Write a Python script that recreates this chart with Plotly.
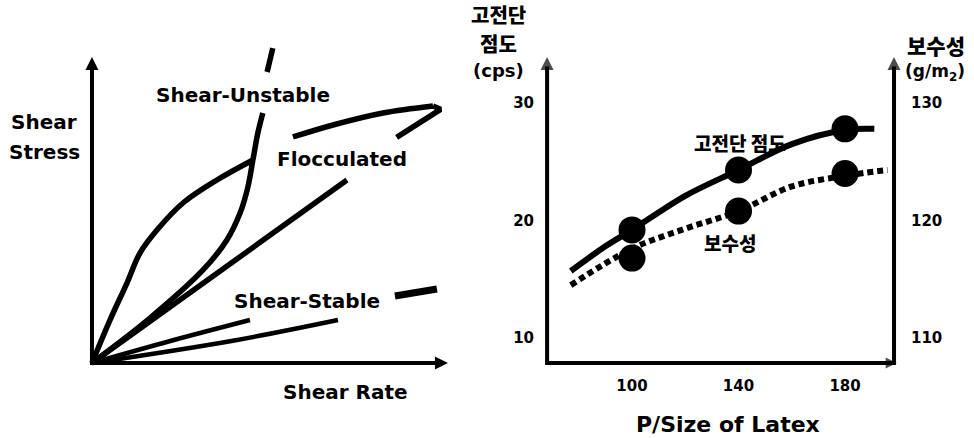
import plotly.graph_objects as go

# ---------------- data ----------------
# Left panel: schematic flow curves (normalized shear rate / shear stress)
unstable_u = [0, 0.163, 0.312, 0.379, 0.416, 0.438, 0.452, 0.466, 0.480]
unstable_v = [0, 0.147, 0.304, 0.402, 0.490, 0.575, 0.663, 0.752, 0.817]
unstable_top_u = [0.492, 0.508]
unstable_top_v = [0.951, 1.029]

floc_up_u = [0, 0.0506, 0.0983, 0.1348, 0.1826, 0.2556, 0.3511, 0.4522]
floc_up_v = [0, 0.1405, 0.2614, 0.3595, 0.4346, 0.5229, 0.598, 0.6634]
floc_top_u = [0.5646, 0.677, 0.8174, 0.9579]
floc_top_v = [0.7386, 0.7778, 0.817, 0.8399]
floc_hook_u = [0.9579, 0.9794, 0.8558]
floc_hook_v = [0.8399, 0.8290, 0.7375]
floc_down_u = [0, 0.7163]
floc_down_v = [0, 0.598]

stable_a_u = [0, 0.22, 0.4438]
stable_a_v = [0, 0.072, 0.1405]
stable_b_u = [0, 0.396, 0.691]
stable_b_v = [0, 0.073, 0.1405]
stable_end_u = [0.851, 0.969]
stable_end_v = [0.219, 0.242]

# Right panel: P/Size of Latex vs high-shear viscosity and water retention
p_size = [100, 140, 180]
viscosity = [19.2, 24.3, 27.8]          # 고전단 점도 (cps), left axis
retention = [116.8, 120.8, 124.0]       # 보수성 (g/m2), right axis

visc_curve_x = [77, 90, 100, 120, 140, 160, 180, 191]
visc_curve_y = [15.7, 17.8, 19.2, 22.1, 24.3, 26.5, 27.7, 27.8]
ret_curve_x = [77, 100, 120, 140, 160, 180, 196]
ret_curve_y = [114.5, 117.6, 119.3, 120.8, 122.9, 123.8, 124.3]

x_ticks = [100, 140, 180]
y_left_ticks = [10, 20, 30]
y_right_ticks = [110, 120, 130]

# axis extents
x_min, x_max = 68.1, 198.4
y_min, y_top = 7.872, 33.91

BLACK = "#000000"
FONT = "DejaVu Sans"
KFONT = "Noto Sans CJK KR"

fig = go.Figure()

def line(x, y, xa, ya, w, dash=None, shape="linear"):
    fig.add_trace(go.Scatter(x=x, y=y, xaxis=xa, yaxis=ya, mode="lines",
                             line=dict(color=BLACK, width=w, dash=dash, shape=shape),
                             hoverinfo="skip"))

# ---- left panel ----
line([0, 0, 0.975], [0.97, 0, 0], "x", "y", 4)
fig.add_trace(go.Scatter(x=[0, 1.0], y=[1.0, 0], xaxis="x", yaxis="y", mode="markers",
                         marker=dict(symbol=["arrow-up", "arrow-right"], size=13, color=BLACK,
                                     line=dict(width=0)), hoverinfo="skip"))
line(unstable_u, unstable_v, "x", "y", 5.5, shape="spline")
line(unstable_top_u, unstable_top_v, "x", "y", 5.5)
line(floc_up_u, floc_up_v, "x", "y", 5.5, shape="spline")
line(floc_top_u, floc_top_v, "x", "y", 5.5, shape="spline")
line(floc_hook_u, floc_hook_v, "x", "y", 5.5)
line(floc_down_u, floc_down_v, "x", "y", 5.5)
line(stable_a_u, stable_a_v, "x", "y", 4.5, shape="spline")
line(stable_b_u, stable_b_v, "x", "y", 4.5, shape="spline")
line(stable_end_u, stable_end_v, "x", "y", 7)

# ---- right panel ----
line([x_min, x_min, x_max, x_max], [y_top - 0.8, y_min, y_min, y_top - 0.8], "x2", "y2", 4)
fig.add_trace(go.Scatter(x=[x_min, x_max, x_max + 1.0], y=[y_top, y_top, y_min], xaxis="x2", yaxis="y2",
                         mode="markers",
                         marker=dict(symbol=["arrow-up", "arrow-up", "arrow-right"], size=[13, 13, 11],
                                     color=BLACK, line=dict(width=0)), hoverinfo="skip"))
line(visc_curve_x, visc_curve_y, "x2", "y2", 6, shape="spline")
line(ret_curve_x, ret_curve_y, "x2", "y3", 6, dash="6px,4px", shape="spline")
fig.add_trace(go.Scatter(x=p_size, y=viscosity, xaxis="x2", yaxis="y2", mode="markers",
                         marker=dict(size=27, color=BLACK, line=dict(width=0)), hoverinfo="skip"))
fig.add_trace(go.Scatter(x=p_size, y=retention, xaxis="x2", yaxis="y3", mode="markers",
                         marker=dict(size=27, color=BLACK, line=dict(width=0)), hoverinfo="skip"))

W, H = 974, 438
def ann(text, px, py, size, family=FONT, xanchor="center", weight="bold"):
    fig.add_annotation(text=text, x=px / W, y=1 - py / H, xref="paper", yref="paper",
                       showarrow=False, xanchor=xanchor, yanchor="middle",
                       font=dict(family=family, size=size, color=BLACK, weight=weight))

ann("Shear", 44, 122, 20)
ann("Stress", 44, 152, 20)
ann("Shear-Unstable", 243, 95, 20)
ann("Flocculated", 342, 159, 20)
ann("Shear-Stable", 307, 301, 20)
ann("Shear Rate", 345, 392, 20)

ann("고전단", 498, 14, 20, KFONT, weight=900)
ann("점도", 498, 43, 20, KFONT, weight=900)
ann("(cps)", 498, 70, 18)
ann("보수성", 936, 45, 21, KFONT, weight=900)
ann("(g/m<sub>2</sub>)", 935, 72, 17)
ann("고전단 점도", 740, 142, 19, KFONT, weight=900)
ann("보수성", 730, 242, 19, KFONT, weight=900)
ann("P/Size of Latex", 728, 424, 22)

tickfont = dict(family=FONT, size=15, color=BLACK, weight="bold")
fig.update_layout(
    width=W, height=H, margin=dict(l=0, r=0, t=0, b=0),
    paper_bgcolor="white", plot_bgcolor="white", showlegend=False,
    xaxis=dict(domain=[0.0821, 0.4825], range=[-0.0337, 1.0618], visible=False),
    yaxis=dict(domain=[0.1438, 0.9315], range=[-0.0392, 1.0882], visible=False),
    xaxis2=dict(domain=[0.5493, 0.9343], range=[63.57, 204.4], anchor="y2",
                tickmode="array", tickvals=x_ticks, ticktext=[str(v) for v in x_ticks],
                showgrid=False, zeroline=False, showline=False, ticks="", tickfont=tickfont),
    yaxis2=dict(domain=[0.1438, 0.8973], range=[6.851, 34.936], anchor="x2",
                tickmode="array", tickvals=y_left_ticks, ticktext=[str(v) for v in y_left_ticks],
                showgrid=False, zeroline=False, showline=False, ticks="", tickfont=tickfont),
    yaxis3=dict(domain=[0.1438, 0.8973], range=[106.851, 134.936], anchor="x2",
                overlaying="y2", side="right",
                tickmode="array", tickvals=y_right_ticks, ticktext=[str(v) for v in y_right_ticks],
                showgrid=False, zeroline=False, showline=False, ticks="", tickfont=tickfont),
)

fig.write_html("out.html", config={"displayModeBar": False},
               post_script="document.body.style.margin='0';document.body.style.overflow='hidden';")
